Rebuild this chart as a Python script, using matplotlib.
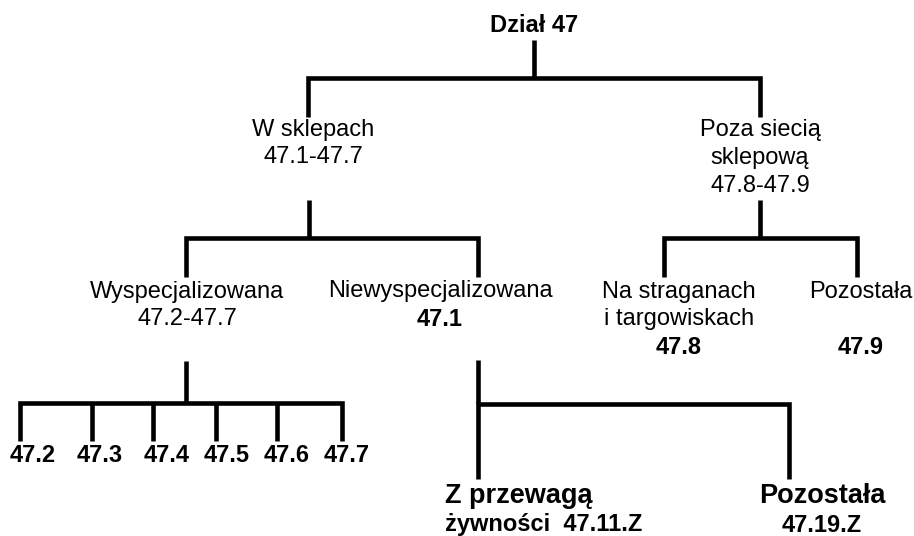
import matplotlib.pyplot as plt

plt.rcParams['font.family'] = ['Liberation Sans', 'DejaVu Sans']

# labels of the tree (top to bottom)
root_label = "Dział 47"
level2_labels = [["W sklepach", "47.1-47.7"],
                 ["Poza siecią", "sklepową", "47.8-47.9"]]
level3_labels = [["Wyspecjalizowana", "47.2-47.7"],
                 ["Niewyspecjalizowana", "47.1"],
                 ["Na straganach", "i targowiskach", "47.8"],
                 ["Pozostała", "", "47.9"]]
group_codes = ["47.2", "47.3", "47.4", "47.5", "47.6", "47.7"]
class_labels = [["Z przewagą", "żywności  47.11.Z"],
                ["Pozostała", "47.19.Z"]]

# layout in pixel coordinates (y goes down)
W, H = 914, 536
LW = 3.3
FS = 17
FS_BIG = 19.5


def bracket(ax, stem_x, stem_top, bar_y, child_xs, drop_bottom):
    ax.plot([stem_x, stem_x], [stem_top, bar_y], color='black', lw=LW,
            solid_capstyle='butt')
    xs = sorted(child_xs)
    ax.plot([xs[0], xs[0], xs[-1], xs[-1]],
            [drop_bottom, bar_y, bar_y, drop_bottom], color='black', lw=LW,
            solid_capstyle='butt', solid_joinstyle='miter')
    for x in xs[1:-1]:
        ax.plot([x, x], [bar_y, drop_bottom], color='black', lw=LW,
                solid_capstyle='butt')


def lines(ax, x, ys, texts, bold=(), size=FS, ha='center'):
    for i, (y, t) in enumerate(zip(ys, texts)):
        if not t:
            continue
        ax.text(x, y, t, ha=ha, va='center', fontsize=size,
                fontweight='bold' if i in bold else 'normal')


fig = plt.figure(figsize=(W / 100, H / 100), dpi=100)
ax = fig.add_axes([0, 0, 1, 1])
ax.set_xlim(0, W)
ax.set_ylim(H, 0)
ax.axis('off')

# connectors
bracket(ax, 534, 40, 78, [308, 760], 117)
bracket(ax, 309, 200, 238, [186, 478], 277)
bracket(ax, 760, 200, 238, [664, 857], 277)
bracket(ax, 186, 361, 403, [20, 92, 153, 216, 277, 342], 441)
bracket(ax, 478, 360, 404, [478, 789], 479)

# text
ax.text(534, 26, root_label, ha='center', va='center', fontsize=FS,
        fontweight='bold')

lines(ax, 313, [130, 157], level2_labels[0])
lines(ax, 760, [130, 158, 186], level2_labels[1])

lines(ax, 187, [292, 319], level3_labels[0])
lines(ax, 440, [291, 319], level3_labels[1], bold=(1,))
lines(ax, 679, [292, 319, 347], level3_labels[2], bold=(2,))
lines(ax, 861, [292, 319, 347], level3_labels[3], bold=(2,))

code_xs = [33, 100, 167, 227, 287, 347]
for x, c in zip(code_xs, group_codes):
    ax.text(x, 455, c, ha='center', va='center', fontsize=FS,
            fontweight='bold')

ax.text(445, 496, class_labels[0][0], ha='left', va='center',
        fontsize=FS_BIG, fontweight='bold')
ax.text(445, 524, class_labels[0][1], ha='left', va='center',
        fontsize=FS, fontweight='bold')
ax.text(822, 496, class_labels[1][0], ha='center', va='center',
        fontsize=FS_BIG, fontweight='bold')
ax.text(822, 525, class_labels[1][1], ha='center', va='center',
        fontsize=FS, fontweight='bold')

fig.savefig('out.png', dpi=100)
